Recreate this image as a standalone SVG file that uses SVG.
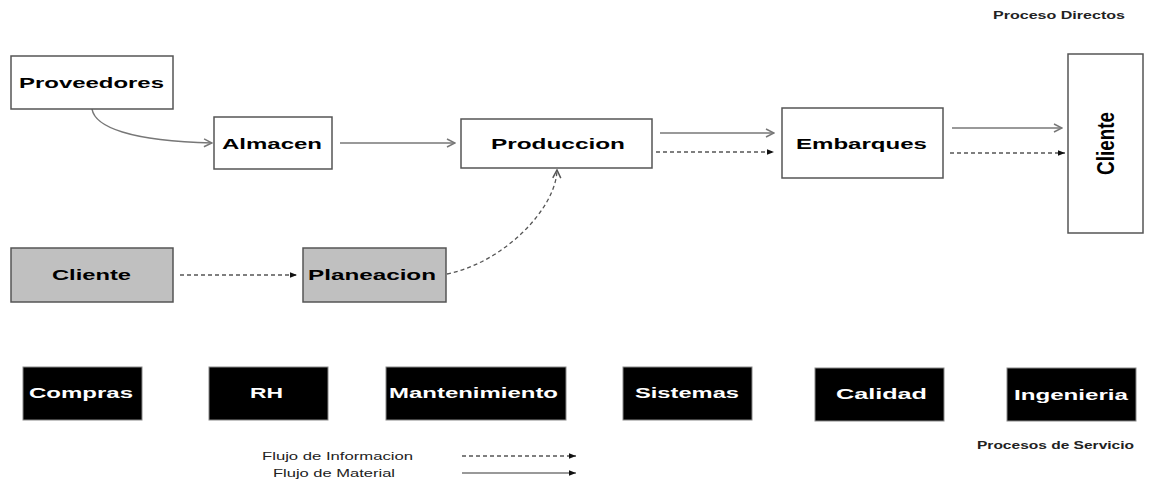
<svg xmlns="http://www.w3.org/2000/svg" width="1149" height="483" viewBox="0 0 1149 483">
<defs>
<style>
.box{fill:#fff;stroke:#555;stroke-width:1.5}
.gbox{fill:#c0c0c0;stroke:#555;stroke-width:1.5}
.bbox{fill:#000;stroke:#888;stroke-width:1}
.lbl{font-family:"Liberation Sans",Arial,sans-serif;font-weight:bold;font-size:15px;fill:#000}
.wlbl{font-family:"Liberation Sans",Arial,sans-serif;font-weight:bold;font-size:15px;fill:#fff}
.small{font-family:"Liberation Sans",Arial,sans-serif;font-weight:bold;font-size:11px;fill:#222}
.leg{font-family:"Liberation Sans",Arial,sans-serif;font-size:11px;fill:#222}
.sol{fill:none;stroke:#777;stroke-width:1.5}
.dash{fill:none;stroke:#555;stroke-width:1.3;stroke-dasharray:4 3}
</style>
<marker id="open" viewBox="0 0 10 10" refX="9" refY="5" markerWidth="10" markerHeight="10" markerUnits="userSpaceOnUse" orient="auto">
<path d="M1,1 L9,5 L1,9" fill="none" stroke="#777" stroke-width="1.5"/>
</marker>
<marker id="openD" viewBox="0 0 10 10" refX="9" refY="5" markerWidth="10" markerHeight="10" markerUnits="userSpaceOnUse" orient="auto">
<path d="M1,1 L9,5 L1,9" fill="none" stroke="#555" stroke-width="1.5"/>
</marker>
<marker id="fill" viewBox="0 0 10 10" refX="10" refY="5" markerWidth="8" markerHeight="7" markerUnits="userSpaceOnUse" orient="auto">
<path d="M0,1 L10,5 L0,9 Z" fill="#111"/>
</marker>
</defs>
<rect width="1149" height="483" fill="#fff"/>

<g id="connectors">
<path class="sol" d="M92,109 C95,127 130,141 212,143" marker-end="url(#open)"/>
<path class="sol" d="M340,143 L455,143" marker-end="url(#open)"/>
<path class="sol" d="M660,133 L774,133" marker-end="url(#open)"/>
<path class="dash" d="M656,152 L774,152" marker-end="url(#fill)"/>
<path class="sol" d="M952,128 L1062,128" marker-end="url(#open)"/>
<path class="dash" d="M950,153 L1065,153" marker-end="url(#fill)"/>
<path class="dash" d="M180,275 L297,275" marker-end="url(#fill)"/>
<path class="dash" d="M447,274 C505,262 556,208 557,170" marker-end="url(#openD)"/>
</g>

<g id="proveedores"><rect class="box" x="11" y="56" width="162" height="53"/><text class="lbl" x="19" y="88" textLength="145" lengthAdjust="spacingAndGlyphs">Proveedores</text></g>
<g id="almacen"><rect class="box" x="214" y="117" width="118" height="52"/><text class="lbl" x="222" y="149" textLength="100" lengthAdjust="spacingAndGlyphs">Almacen</text></g>
<g id="produccion"><rect class="box" x="461" y="119" width="191" height="49"/><text class="lbl" x="491" y="149" textLength="134" lengthAdjust="spacingAndGlyphs">Produccion</text></g>
<g id="embarques"><rect class="box" x="782" y="108" width="161" height="70"/><text class="lbl" x="796" y="149" textLength="131" lengthAdjust="spacingAndGlyphs">Embarques</text></g>
<g id="cliente-final"><rect class="box" x="1068" y="54" width="75" height="179"/><text class="lbl" style="font-size:23px" x="1074" y="152" textLength="63" lengthAdjust="spacingAndGlyphs" transform="rotate(-90 1105.5 143.5)">Cliente</text></g>

<g id="cliente"><rect class="gbox" x="11" y="248" width="162" height="54"/><text class="lbl" x="52" y="280" textLength="79" lengthAdjust="spacingAndGlyphs">Cliente</text></g>
<g id="planeacion"><rect class="gbox" x="303" y="248" width="143" height="54"/><text class="lbl" x="308" y="280" textLength="128" lengthAdjust="spacingAndGlyphs">Planeacion</text></g>

<g id="compras"><rect class="bbox" x="23" y="367" width="119" height="53"/><text class="wlbl" x="29" y="398" textLength="104" lengthAdjust="spacingAndGlyphs">Compras</text></g>
<g id="rh"><rect class="bbox" x="209" y="367" width="119" height="53"/><text class="wlbl" x="250" y="398" textLength="33" lengthAdjust="spacingAndGlyphs">RH</text></g>
<g id="mantenimiento"><rect class="bbox" x="386" y="367" width="180" height="53"/><text class="wlbl" x="389" y="398" textLength="169" lengthAdjust="spacingAndGlyphs">Mantenimiento</text></g>
<g id="sistemas"><rect class="bbox" x="623" y="367" width="129" height="53"/><text class="wlbl" x="635" y="398" textLength="104" lengthAdjust="spacingAndGlyphs">Sistemas</text></g>
<g id="calidad"><rect class="bbox" x="815" y="368" width="129" height="53"/><text class="wlbl" x="836" y="399" textLength="91" lengthAdjust="spacingAndGlyphs">Calidad</text></g>
<g id="ingenieria"><rect class="bbox" x="1007" y="368" width="129" height="53"/><text class="wlbl" x="1014" y="400" textLength="114" lengthAdjust="spacingAndGlyphs">Ingenieria</text></g>

<g id="titles">
<text class="small" style="font-size:10px" x="993" y="19" textLength="132" lengthAdjust="spacingAndGlyphs">Proceso Directos</text>
<text class="small" x="977" y="449" textLength="157" lengthAdjust="spacingAndGlyphs">Procesos de Servicio</text>
</g>

<g id="legend">
<text class="leg" x="262" y="460" textLength="151" lengthAdjust="spacingAndGlyphs">Flujo de Informacion</text>
<text class="leg" x="273" y="477" textLength="122" lengthAdjust="spacingAndGlyphs">Flujo de Material</text>
<path class="dash" d="M462,456 L576,456" stroke="#333" marker-end="url(#fill)"/>
<path class="sol" d="M462,473 L576,473" marker-end="url(#fill)"/>
</g>
</svg>
